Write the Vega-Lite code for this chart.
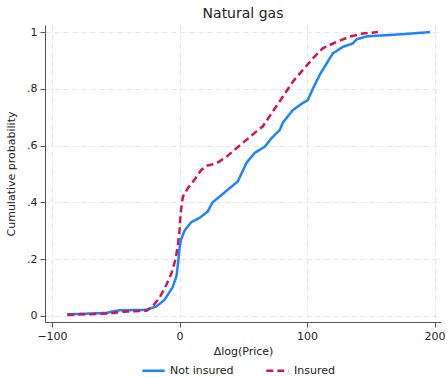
{
  "$schema": "https://vega.github.io/schema/vega-lite/v6.json",
  "width": 396,
  "height": 297,
  "autosize": "none",
  "padding": {"left": 45, "top": 25, "right": 6, "bottom": 55},
  "background": "white",
  "config": {
    "font": "DejaVu Sans",
    "view": {"stroke": null},
    "axis": {
      "domainColor": "#555555",
      "tickColor": "#555555",
      "gridColor": "#e6e6e6",
      "gridDash": [5, 4],
      "gridWidth": 1,
      "labelColor": "#222222",
      "titleColor": "#222222",
      "labelFontSize": 11,
      "titleFontSize": 11,
      "titleFontWeight": "normal",
      "tickSize": 5
    }
  },
  "title": {"text": "Natural gas", "fontSize": 14, "fontWeight": "normal", "color": "#222222", "offset": 4},
  "data": {
    "values": [
      {"g": "Not insured", "x": -88, "y": 0.005},
      {"g": "Not insured", "x": -57.3, "y": 0.01},
      {"g": "Not insured", "x": -52.6, "y": 0.015},
      {"g": "Not insured", "x": -47.1, "y": 0.019},
      {"g": "Not insured", "x": -25.9, "y": 0.021},
      {"g": "Not insured", "x": -18.1, "y": 0.033},
      {"g": "Not insured", "x": -11.8, "y": 0.056},
      {"g": "Not insured", "x": -5.5, "y": 0.1},
      {"g": "Not insured", "x": -2.4, "y": 0.14},
      {"g": "Not insured", "x": -0.8, "y": 0.2},
      {"g": "Not insured", "x": 0, "y": 0.24},
      {"g": "Not insured", "x": 1.3, "y": 0.27},
      {"g": "Not insured", "x": 3.9, "y": 0.3},
      {"g": "Not insured", "x": 9.2, "y": 0.33},
      {"g": "Not insured", "x": 15.7, "y": 0.345},
      {"g": "Not insured", "x": 22, "y": 0.367},
      {"g": "Not insured", "x": 25.9, "y": 0.4},
      {"g": "Not insured", "x": 31.4, "y": 0.42},
      {"g": "Not insured", "x": 39.3, "y": 0.45},
      {"g": "Not insured", "x": 45.6, "y": 0.473},
      {"g": "Not insured", "x": 52.6, "y": 0.54},
      {"g": "Not insured", "x": 58.9, "y": 0.574},
      {"g": "Not insured", "x": 66.8, "y": 0.596},
      {"g": "Not insured", "x": 72.3, "y": 0.627},
      {"g": "Not insured", "x": 78.6, "y": 0.655},
      {"g": "Not insured", "x": 80.9, "y": 0.68},
      {"g": "Not insured", "x": 88.8, "y": 0.725},
      {"g": "Not insured", "x": 96.6, "y": 0.75},
      {"g": "Not insured", "x": 100.5, "y": 0.76},
      {"g": "Not insured", "x": 104.5, "y": 0.8},
      {"g": "Not insured", "x": 110, "y": 0.85},
      {"g": "Not insured", "x": 115.4, "y": 0.89},
      {"g": "Not insured", "x": 120.2, "y": 0.925},
      {"g": "Not insured", "x": 128, "y": 0.948},
      {"g": "Not insured", "x": 135.9, "y": 0.96},
      {"g": "Not insured", "x": 139, "y": 0.975},
      {"g": "Not insured", "x": 146.9, "y": 0.985},
      {"g": "Not insured", "x": 172.8, "y": 0.992},
      {"g": "Not insured", "x": 196.4, "y": 1.0},
      {"g": "Insured", "x": -88, "y": 0.003},
      {"g": "Insured", "x": -55, "y": 0.008},
      {"g": "Insured", "x": -44.8, "y": 0.014},
      {"g": "Insured", "x": -25.9, "y": 0.018},
      {"g": "Insured", "x": -21.2, "y": 0.033},
      {"g": "Insured", "x": -15.7, "y": 0.063},
      {"g": "Insured", "x": -10.2, "y": 0.11},
      {"g": "Insured", "x": -6.3, "y": 0.15},
      {"g": "Insured", "x": -3.1, "y": 0.2},
      {"g": "Insured", "x": -1.3, "y": 0.25},
      {"g": "Insured", "x": 0, "y": 0.3},
      {"g": "Insured", "x": 0.8, "y": 0.36},
      {"g": "Insured", "x": 2.6, "y": 0.42},
      {"g": "Insured", "x": 6.5, "y": 0.45},
      {"g": "Insured", "x": 11.8, "y": 0.48},
      {"g": "Insured", "x": 17, "y": 0.514},
      {"g": "Insured", "x": 22, "y": 0.53},
      {"g": "Insured", "x": 28.8, "y": 0.537},
      {"g": "Insured", "x": 36.7, "y": 0.56},
      {"g": "Insured", "x": 44.5, "y": 0.59},
      {"g": "Insured", "x": 52.4, "y": 0.62},
      {"g": "Insured", "x": 60.3, "y": 0.65},
      {"g": "Insured", "x": 65.2, "y": 0.667},
      {"g": "Insured", "x": 73.1, "y": 0.72},
      {"g": "Insured", "x": 80.9, "y": 0.772},
      {"g": "Insured", "x": 88.8, "y": 0.825},
      {"g": "Insured", "x": 96.6, "y": 0.866},
      {"g": "Insured", "x": 104.5, "y": 0.907},
      {"g": "Insured", "x": 112.3, "y": 0.943},
      {"g": "Insured", "x": 123.3, "y": 0.966},
      {"g": "Insured", "x": 133.5, "y": 0.984},
      {"g": "Insured", "x": 143.8, "y": 0.995},
      {"g": "Insured", "x": 155.5, "y": 1.0}
    ]
  },
  "mark": {"type": "line", "strokeWidth": 2.5, "interpolate": "linear", "clip": true},
  "encoding": {
    "x": {
      "field": "x", "type": "quantitative",
      "scale": {"domain": [-105.5, 205], "nice": false, "zero": false},
      "axis": {"values": [-100, 0, 100, 200], "title": "Δlog(Price)", "titlePadding": 4, "labelPadding": 3}
    },
    "y": {
      "field": "y", "type": "quantitative",
      "scale": {"domain": [-0.022, 1.025], "nice": false, "zero": false},
      "axis": {
        "values": [0, 0.2, 0.4, 0.6, 0.8, 1],
        "labelExpr": "datum.value == 0 ? '0' : datum.value == 1 ? '1' : replace(format(datum.value, '.1f'), '0.', '.')",
        "title": "Cumulative probability",
        "titlePadding": 10,
        "labelPadding": 3
      }
    },
    "color": {
      "field": "g", "type": "nominal",
      "scale": {"domain": ["Not insured", "Insured"], "range": ["#1a85ff", "#d41159"]},
      "legend": {
        "orient": "none", "legendX": 96, "legendY": 333, "title": null, "direction": "horizontal",
        "symbolType": "stroke", "symbolSize": 500, "symbolStrokeWidth": 2.5,
        "labelFontSize": 11, "labelColor": "#222222", "columnPadding": 27
      }
    },
    "strokeDash": {
      "field": "g", "type": "nominal",
      "scale": {"domain": ["Not insured", "Insured"], "range": [[1, 0], [7, 4]]},
      "legend": null
    }
  }
}
